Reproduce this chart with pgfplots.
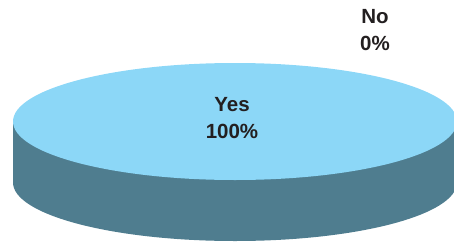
\documentclass[border=0pt]{standalone}
\usepackage{pgfplots}
\pgfplotsset{compat=1.18}
\usepackage{pgfplotstable}
\usepackage{fontspec}
\setmainfont{Liberation Sans}
\definecolor{topc}{HTML}{8CD7F7}
\definecolor{sidec}{HTML}{4F7D8F}
\definecolor{txt}{HTML}{231F20}
\pgfplotstableread{
label share
Yes 100
No 0
}\piedata
\begin{document}
\begin{tikzpicture}
\useasboundingbox (0,0) rectangle (454pt,242pt);
\clip (0,0) rectangle (454pt,242pt);
\begin{axis}[
  at={(0,0)}, anchor=south west,
  x=1pt, y=1pt,
  xmin=0, xmax=454, ymin=0, ymax=242,
  hide axis, clip=false,
]
% Yes = 100% -> full ellipse (start 0, end 360 deg)
\fill[sidec] (axis cs:13,120.5) -- (axis cs:13,59.5)
  arc[start angle=180, end angle=360, x radius=222, y radius=58.5]
  -- (axis cs:457,120.5) -- cycle;
\fill[topc] (axis cs:235,120.5) ellipse [x radius=222, y radius=58.5];
\addplot[draw=none, forget plot] coordinates {(232,131) (375,219)};
\node[anchor=base, font=\bfseries\fontsize{20.5}{24}\selectfont, text=txt] at (axis cs:232,131) {Yes};
\node[anchor=base, font=\bfseries\fontsize{20.5}{24}\selectfont, text=txt] at (axis cs:232,104) {100\%};
\node[anchor=base, font=\bfseries\fontsize{20.5}{24}\selectfont, text=txt] at (axis cs:375,219) {No};
\node[anchor=base, font=\bfseries\fontsize{20.5}{24}\selectfont, text=txt] at (axis cs:375,192) {0\%};
\end{axis}
\end{tikzpicture}
\end{document}
